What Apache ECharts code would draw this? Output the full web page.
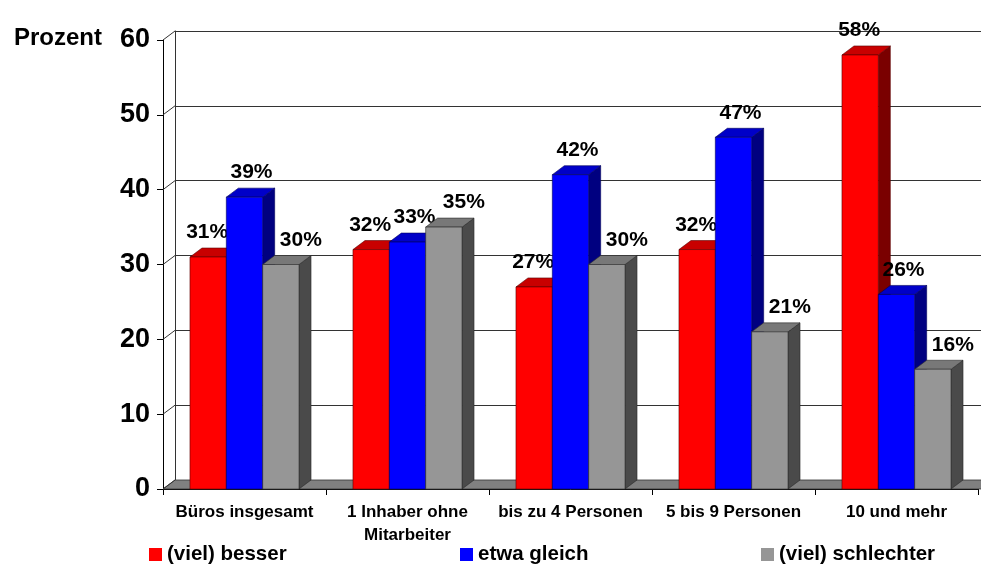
<!DOCTYPE html>
<html>
<head>
<meta charset="utf-8">
<script src="https://cdn.jsdelivr.net/npm/echarts@6/dist/echarts.min.js"></script>
<style>html,body{margin:0;padding:0;background:#fff}#c{width:981px;height:566px}</style>
</head>
<body>
<div id="c"></div>
<script>
// ---- data ----
const categories = ['Büros insgesamt', '1 Inhaber ohne\nMitarbeiter', 'bis zu 4 Personen', '5 bis 9 Personen', '10 und mehr'];
const seriesNames = ['(viel) besser', 'etwa gleich', '(viel) schlechter'];
const besser = [31, 32, 27, 32, 58];
const gleich = [39, 33, 42, 47, 26];
const schlechter = [30, 35, 30, 21, 16];
const yTicks = [0, 10, 20, 30, 40, 50, 60];

// ---- styling ----
const FONT = '"Liberation Sans", Arial, sans-serif';
const DX = 12, DY = 9;           // 3D depth offset
const GROUP_RATIO = 0.669;       // share of a category taken by the bar group
const palettes = [
  {front: '#ff0000', top: '#c80000', side: '#7a0000', edge: '#5a0000', shift: -7},
  {front: '#0000ff', top: '#0000c8', side: '#000080', edge: '#00005a', shift: 1},
  {front: '#969696', top: '#787878', side: '#4a4a4a', edge: '#2a2a2a', shift: 14}
];
const seriesValues = [besser, gleich, schlechter];

function barSeries(idx) {
  const p = palettes[idx];
  return {
    type: 'custom',
    name: seriesNames[idx],
    xAxisIndex: 0, yAxisIndex: 0,
    clip: false,
    z: 3 + idx,
    itemStyle: {color: p.front},
    encode: {x: 0, y: 1},
    data: seriesValues[idx].map((v, i) => [i, v]),
    renderItem: function (params, api) {
      const ci = api.value(0), v = api.value(1);
      const base = api.coord([ci, 0]);
      const top = api.coord([ci, v]);
      const band = api.size([1, 0])[0];
      const groupW = band * GROUP_RATIO;
      const w = groupW / 3;
      const x0 = base[0] - groupW / 2 + idx * w;
      const x1 = x0 + w;
      const yb = base[1], yt = top[1];
      return {
        type: 'group',
        children: [
          {type: 'polygon', shape: {points: [[x1, yt], [x1 + DX, yt - DY], [x1 + DX, yb - DY], [x1, yb]]},
            style: {fill: p.side, stroke: p.edge, lineWidth: 0.6}},
          {type: 'polygon', shape: {points: [[x0, yt], [x0 + DX, yt - DY], [x1 + DX, yt - DY], [x1, yt]]},
            style: {fill: p.top, stroke: p.edge, lineWidth: 0.6}},
          {type: 'rect', shape: {x: x0, y: yt, width: w, height: yb - yt},
            style: {fill: p.front, stroke: p.edge, lineWidth: 0.6}},
          {type: 'text', z2: 10, style: {text: v + '%', x: (x0 + x1) / 2 + DX / 2 + p.shift, y: yt - DY - 5,
            align: 'center', verticalAlign: 'bottom', fontFamily: FONT, fontWeight: 'bold', fontSize: 21, fill: '#000'}}
        ]
      };
    }
  };
}

const floorSeries = {
  type: 'custom', xAxisIndex: 0, yAxisIndex: 0, clip: false, z: 1, silent: true,
  data: [[0, 0]], encode: {x: 0, y: 1},
  renderItem: function (params, api) {
    const band = api.size([1, 0])[0];
    const p0 = api.coord([0, 0]);
    const pN = api.coord([categories.length - 1, 0]);
    const left = p0[0] - band / 2, right = pN[0] + band / 2 + 30, y0 = p0[1];
    return {type: 'polygon', shape: {points: [[left, y0], [right, y0], [right + DX, y0 - DY], [left + DX, y0 - DY]]},
      style: {fill: '#808080', stroke: '#333', lineWidth: 0.8}};
  }
};

const diagSeries = {
  type: 'custom', xAxisIndex: 0, yAxisIndex: 0, clip: false, z: 2, silent: true,
  data: yTicks.map(v => [0, v]), encode: {x: 0, y: 1},
  renderItem: function (params, api) {
    const band = api.size([1, 0])[0];
    const p = api.coord([0, api.value(1)]);
    const left = p[0] - band / 2;
    return {type: 'line', shape: {x1: left, y1: p[1], x2: left + DX, y2: p[1] - DY},
      style: {stroke: '#333', lineWidth: 1}};
  }
};

const chart = echarts.init(document.getElementById('c'), null, {renderer: 'canvas'});
chart.setOption({
  animation: false,
  backgroundColor: '#fff',
  color: ['#ff0000', '#0000ff', '#969696'],
  title: {text: 'Prozent', left: 14, top: 26, padding: 0,
    textStyle: {fontFamily: FONT, fontWeight: 'bold', fontSize: 24, color: '#000'}},
  legend: seriesNames.map((n, i) => ({
    data: [n], left: [149, 460, 761][i], top: 544, padding: 0,
    icon: 'rect', itemWidth: 13, itemHeight: 13,
    textStyle: {fontFamily: FONT, fontWeight: 'bold', fontSize: 20.5, color: '#000'}
  })),
  grid: [
    {left: 163, right: 3, top: 40, bottom: 77},
    {left: 175, right: -9, top: 31, bottom: 86}
  ],
  xAxis: [
    {type: 'category', gridIndex: 0, data: categories,
      axisLine: {show: true, lineStyle: {color: '#000', width: 1}},
      axisTick: {show: true, length: 6, lineStyle: {color: '#000'}},
      axisLabel: {interval: 0, margin: 12, fontFamily: FONT, fontWeight: 'bold', fontSize: 17, lineHeight: 23, color: '#000'},
      splitLine: {show: false}},
    {type: 'category', gridIndex: 1, data: categories, show: false}
  ],
  yAxis: [
    {type: 'value', gridIndex: 0, min: 0, max: 60, interval: 10,
      axisLine: {show: true, lineStyle: {color: '#000', width: 1}},
      axisTick: {show: true, length: 6, lineStyle: {color: '#000'}},
      axisLabel: {margin: 13, fontFamily: FONT, fontWeight: 'bold', fontSize: 27, color: '#000'},
      splitLine: {show: false}},
    {type: 'value', gridIndex: 1, min: 0, max: 60, interval: 10,
      axisLine: {show: true, lineStyle: {color: '#333', width: 1}},
      axisTick: {show: false}, axisLabel: {show: false},
      splitLine: {show: true, lineStyle: {color: '#333', width: 1}}}
  ],
  series: [barSeries(0), barSeries(1), barSeries(2), floorSeries, diagSeries]
});
</script>
</body>
</html>
